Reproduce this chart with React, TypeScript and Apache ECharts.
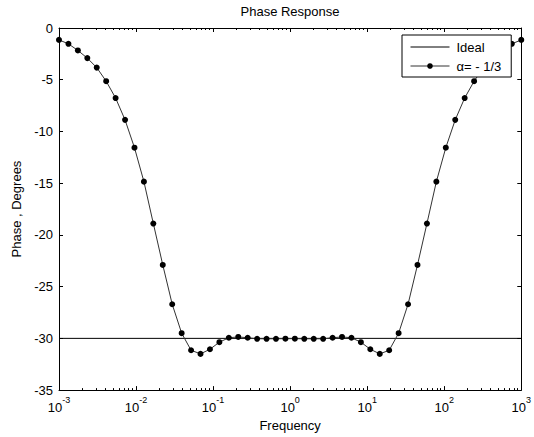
import React, { useEffect, useRef } from "react";
import * as echarts from "echarts";

const chartTitle = "Phase Response";
const xAxisName = "Frequency";
const yAxisName = "Phase , Degrees";
const seriesNames = ["Ideal", "α= - 1/3"];

// logspace(-3, 3, 50)
const frequencies = [
  0.001, 0.0013257, 0.0017575, 0.00233, 0.0030888, 0.0040949, 0.0054287, 0.0071969, 0.009541, 0.012649,
  0.016768, 0.02223, 0.029471, 0.039069, 0.051795, 0.068665, 0.09103, 0.12068, 0.15999, 0.2121,
  0.28118, 0.37276, 0.49417, 0.65513, 0.86851, 1.1514, 1.5264, 2.0236, 2.6827, 3.5565,
  4.7149, 6.2506, 8.2864, 10.985, 14.563, 19.307, 25.595, 33.932, 44.984, 59.636,
  79.06, 104.81, 138.95, 184.21, 244.21, 323.75, 429.19, 568.99, 754.31, 1000,
];

const phaseAlpha = [
  -1.15, -1.53, -2.17, -2.91, -3.83, -5.14, -6.77, -8.88, -11.57, -14.85,
  -18.9, -22.9, -26.7, -29.5, -31.15, -31.5, -31.05, -30.37, -29.94, -29.86,
  -29.94, -30.04, -30.04, -30.04, -30.03, -30.03, -30.04, -30.04, -30.04, -29.94,
  -29.86, -29.94, -30.37, -31.05, -31.5, -31.15, -29.5, -26.7, -22.9, -18.9,
  -14.85, -11.57, -8.88, -6.77, -5.14, -3.83, -2.91, -2.17, -1.53, -1.15,
];

const idealFreq = [0.001, 1000];
const idealPhase = [-30, -30];

const xMin = 0.001;
const xMax = 1000;
const yMin = -35;
const yMax = 0;
const yInterval = 5;

const decades = [-3, -2, -1, 0, 1, 2];
const minorMultipliers = [2, 3, 4, 5, 6, 7, 8, 9];

const FONT = "'Liberation Sans', Arial, Helvetica, sans-serif";

export default function App() {
  const ref = useRef<HTMLDivElement>(null);

  useEffect(() => {
    if (!ref.current) return;
    const chart = echarts.init(ref.current, null, { renderer: "svg" });

    const minorTicks: number[] = [];
    decades.forEach((d) => minorMultipliers.forEach((m) => minorTicks.push(d + Math.log10(m))));

    const majorLog = (position: "bottom" | "top", labels: boolean) => ({
      type: "log",
      logBase: 10,
      min: xMin,
      max: xMax,
      position,
      name: labels ? xAxisName : "",
      nameLocation: "middle",
      nameGap: 19,
      nameTextStyle: { color: "#000", fontSize: 13, fontFamily: FONT },
      axisLine: { show: true, onZero: false, lineStyle: { color: "#000", width: 1 } },
      axisTick: { show: true, inside: true, length: 4, lineStyle: { color: "#000" } },
      axisLabel: labels
        ? {
            show: true,
            margin: 5,
            formatter: (v: number) => `{b|10}{s|${Math.round(Math.log10(v))}}`,
            rich: {
              b: { fontSize: 13, fontFamily: FONT, color: "#000", padding: [6, 0, 0, 0] },
              s: { fontSize: 9, fontFamily: FONT, color: "#000", verticalAlign: "top" },
            },
          }
        : { show: false },
      splitLine: { show: false },
      minorTick: { show: false },
    });

    const minorAxis = (position: "bottom" | "top") => ({
      type: "value",
      min: -3,
      max: 3,
      position,
      axisLine: { show: false, onZero: false },
      axisLabel: { show: false },
      splitLine: { show: false },
      axisTick: {
        show: true,
        inside: true,
        length: 2,
        customValues: minorTicks,
        lineStyle: { color: "#000" },
      },
    });

    const yAx = (position: "left" | "right", labels: boolean) => ({
      type: "value",
      min: yMin,
      max: yMax,
      interval: yInterval,
      position,
      name: labels ? yAxisName : "",
      nameLocation: "middle",
      nameGap: 32,
      nameTextStyle: { color: "#000", fontSize: 13, fontFamily: FONT },
      axisLine: { show: true, onZero: false, lineStyle: { color: "#000", width: 1 } },
      axisTick: { show: true, inside: true, length: 4, lineStyle: { color: "#000" } },
      axisLabel: labels
        ? { show: true, margin: 6, color: "#000", fontSize: 13, fontFamily: FONT }
        : { show: false },
      splitLine: { show: false },
    });

    chart.setOption({
      animation: false,
      backgroundColor: "#fff",
      textStyle: { fontFamily: FONT },
      title: {
        text: chartTitle,
        left: 290,
        top: 5,
        padding: 0,
        textAlign: "center",
        textStyle: { fontSize: 13, fontWeight: "normal", color: "#000", fontFamily: FONT },
      },
      grid: { left: 59, right: 12, top: 28, bottom: 45, containLabel: false },
      legend: {
        orient: "vertical",
        left: 402,
        top: 35,
        padding: [5, 9, 4, 8],
        itemGap: 5,
        itemWidth: 39,
        itemHeight: 7,
        backgroundColor: "#fff",
        borderColor: "#000",
        borderWidth: 1,
        borderRadius: 0,
        lineStyle: { width: 1 },
        data: [
          { name: seriesNames[0], itemStyle: { opacity: 0, borderWidth: 0 } },
          { name: seriesNames[1] },
        ],
        textStyle: { fontSize: 13, color: "#000", fontFamily: FONT, padding: [0, 1, 0, 2], lineHeight: 14 },
      },
      xAxis: [majorLog("bottom", true), majorLog("top", false), minorAxis("bottom"), minorAxis("top")],
      yAxis: [yAx("left", true), yAx("right", false)],
      series: [
        {
          name: seriesNames[0],
          type: "line",
          xAxisIndex: 0,
          yAxisIndex: 0,
          data: idealFreq.map((f, i) => [f, idealPhase[i]]),
          showSymbol: false,
          symbol: "none",
          lineStyle: { color: "#000", width: 1 },
          itemStyle: { color: "#000" },
        },
        {
          name: seriesNames[1],
          type: "line",
          xAxisIndex: 0,
          yAxisIndex: 0,
          data: frequencies.map((f, i) => [f, phaseAlpha[i]]),
          symbol: "circle",
          symbolSize: 6,
          clip: false,
          lineStyle: { color: "#333", width: 1 },
          itemStyle: { color: "#000" },
        },
      ],
    });

    return () => chart.dispose();
  }, []);

  return (
    <div
      ref={ref}
      style={{ position: "fixed", left: 0, top: 0, width: 534, height: 437, background: "#fff" }}
    />
  );
}
